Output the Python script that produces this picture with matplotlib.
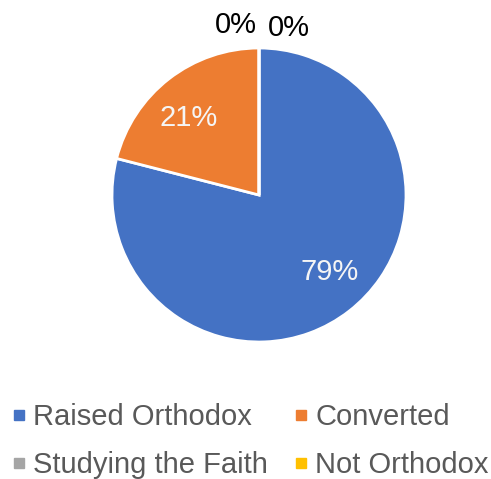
import numpy as np
import matplotlib.pyplot as plt
from matplotlib.lines import Line2D

plt.rcParams['font.family'] = ['Liberation Sans', 'DejaVu Sans']

categories = ['Raised Orthodox', 'Converted', 'Studying the Faith', 'Not Orthodox']
values = [79, 21, 0, 0]
colors = ['#4472C4', '#ED7D31', '#A5A5A5', '#FFC000']

fig = plt.figure(figsize=(4.91, 4.79), dpi=100)
ax = fig.add_axes([112 / 491, 1 - 342 / 479, 294 / 491, 294 / 479])

wedges, _ = ax.pie(values, colors=colors, startangle=90, counterclock=False,
                   radius=1.0, wedgeprops=dict(edgecolor='white', linewidth=2))
ax.set_xlim(-1, 1)
ax.set_ylim(-1, 1)
ax.set_aspect('equal')
ax.axis('off')

total = sum(values)
zero_pos = {2: (-0.16, 1.155), 3: (0.2, 1.135)}
for i, (w, v) in enumerate(zip(wedges, values)):
    mid = np.deg2rad((w.theta1 + w.theta2) / 2 + 4.5)
    pct = f'{round(100 * v / total)}%'
    if v > 0:
        r = 0.71
        ax.text(r * np.cos(mid), r * np.sin(mid), pct, ha='center', va='center',
                color='#F5F5F5', fontsize=21)
    else:
        x, y = zero_pos[i]
        ax.text(x, y, pct, ha='center', va='center',
                color='black', fontsize=21, clip_on=False)

# legend fills row by row
order = [0, 2, 1, 3]
handles = [Line2D([], [], marker='s', linestyle='none', markersize=7.5,
                  markerfacecolor=colors[k], markeredgecolor=colors[k]) for k in order]
fig.legend(handles, [categories[k] for k in order], ncol=2, loc='upper left',
           bbox_to_anchor=(12.2 / 491, 1 - 403 / 479), frameon=False,
           borderpad=0, borderaxespad=0,
           fontsize=21, labelcolor='#595959', handlelength=0.5,
           handletextpad=0.23, columnspacing=0.87, labelspacing=0.70)

fig.savefig('out.png', dpi=100)
